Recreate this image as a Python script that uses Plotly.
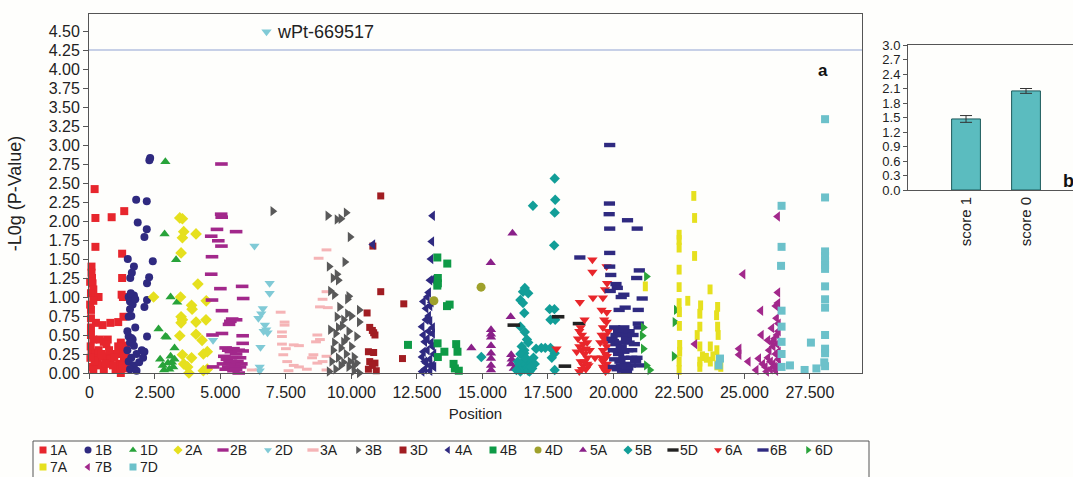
import plotly.graph_objects as go

# ---------------- data ----------------
chromosomes = ["1A", "1B", "1D", "2A", "2B", "2D", "3A", "3B", "3D", "4A", "4B",
               "4D", "5A", "5B", "5D", "6A", "6B", "6D", "7A", "7B", "7D"]

pts_1A = [(200, 2.42), (230, 2.04), (850, 2.05), (1330, 2.13), (230, 1.66), (1250, 1.57),
          (80, 1.40), (80, 1.32), (100, 1.25), (120, 1.18), (150, 1.10), (60, 1.05), (250, 1.0),
          (350, 1.0), (60, 0.83), (1250, 1.25), (1230, 1.03), (1280, 1.0), (150, 0.95), (250, 0.66),
          (500, 0.63), (800, 0.66), (1100, 0.67), (1300, 0.74), (150, 0.44), (400, 0.44), (550, 0.41),
          (700, 0.44), (650, 0.38), (1200, 0.40), (1350, 0.36), (80, 0.26), (300, 0.18), (250, 0.27),
          (500, 0.22), (700, 0.20), (800, 0.18), (1050, 0.25), (1150, 0.12), (1300, 0.30), (1400, 0.20),
          (1420, 0.06), (550, 0.04), (100, 0.08), (400, 0.10), (1000, 0.05), (900, 0.10), (1200, 0.0),
          (60, 0.50), (60, 0.60), (60, 0.72), (1380, 0.15), (50, 0.35), (150, 0.05), (200, 0.15),
          (350, 0.30), (450, 0.25), (600, 0.12), (750, 0.30), (950, 0.20), (1100, 0.35), (1250, 0.10),
          (1320, 0.22), (1400, 0.33), (30, 0.90), (30, 1.20), (40, 0.20)]
pts_1B = [(2290, 2.80), (2320, 2.83), (1785, 2.28), (2190, 2.26), (1845, 1.98), (2190, 1.89),
          (2100, 1.79), (1465, 1.50), (2420, 1.47), (1700, 1.40), (1620, 1.32), (1560, 1.25),
          (2280, 1.26), (2200, 1.18), (1500, 1.00), (1600, 0.98), (1700, 1.02), (1550, 0.94),
          (1650, 0.90), (1580, 1.05), (1750, 0.97), (2200, 0.96), (2100, 0.87), (1550, 0.84),
          (1500, 0.74), (1600, 0.75), (1500, 0.48), (1600, 0.46), (1650, 0.44), (1550, 0.40),
          (2200, 0.48), (1700, 0.36), (2000, 0.30), (2100, 0.28), (1800, 0.25), (1600, 0.20),
          (1500, 0.15), (1700, 0.10), (1900, 0.14), (1550, 0.05), (1800, 0.03), (2050, 0.20),
          (1450, 0.30), (1450, 0.55), (1750, 0.60)]
pts_1D = [(2900, 2.78), (2870, 1.83), (3310, 1.49), (3100, 1.0), (3350, 0.93), (2640, 0.58),
          (2900, 0.48), (2950, 0.47), (3250, 0.33), (2700, 0.18), (3000, 0.13), (3150, 0.14),
          (3250, 0.18), (2850, 0.04), (3050, 0.05), (3200, 0.08), (3100, 0.22), (2800, 0.10)]
pts_2A = [(3450, 2.04), (3550, 2.03), (3600, 1.86), (4070, 1.83), (3550, 1.78), (3500, 1.58),
          (4140, 1.17), (2450, 1.0), (3480, 1.0), (4460, 0.95), (3900, 0.89), (3920, 0.84),
          (3500, 0.74), (3550, 0.70), (3500, 0.66), (4070, 0.67), (4450, 0.70), (3450, 0.49),
          (4070, 0.51), (4300, 0.43), (3550, 0.24), (3900, 0.20), (4350, 0.25), (4500, 0.28),
          (3750, 0.08), (4350, 0.03), (3600, 0.12), (3800, 0.0), (4500, 0.05)]
pts_2B = [(5040, 2.75), (5030, 2.09), (5050, 2.05), (4870, 1.89), (5600, 1.86), (4650, 1.80),
          (4920, 1.74), (5040, 1.67), (4680, 1.53), (4650, 1.30), (5000, 1.11), (5830, 1.14),
          (5870, 0.98), (4680, 0.96), (5060, 0.82), (5450, 0.71), (5380, 0.68), (5600, 0.70),
          (5330, 0.64), (5060, 0.52), (4700, 0.50), (5850, 0.49), (5850, 0.39), (5850, 0.29),
          (4720, 0.08), (5200, 0.33), (5300, 0.30), (5400, 0.28), (5500, 0.32), (5600, 0.25),
          (5700, 0.30), (5750, 0.20), (5150, 0.22), (5250, 0.18), (5350, 0.15), (5450, 0.12),
          (5550, 0.10), (5650, 0.15), (5750, 0.08), (5200, 0.05), (5300, 0.08), (5500, 0.03),
          (5600, 0.05), (5800, 0.12), (5100, 0.12), (5400, 0.20), (5700, 0.0)]
pts_2D = [(6760, 4.49), (6300, 1.67), (6880, 1.18), (6880, 1.05), (6620, 0.85), (6560, 0.78),
          (6450, 0.72), (6700, 0.63), (6750, 0.57), (6800, 0.53), (6530, 0.34), (6500, 0.08),
          (6500, 0.03), (4720, 0.43), (6650, 0.55)]
pts_3A = [(7300, 0.80), (7450, 0.67), (7450, 0.63), (7350, 0.54), (7350, 0.48), (7350, 0.38),
          (7800, 0.37), (8000, 0.36), (7500, 0.32), (7400, 0.24), (8000, 0.08), (7600, 0.03),
          (6200, 0.04), (9050, 1.62), (8750, 1.51), (9050, 1.07), (8900, 0.97), (8800, 0.87),
          (9100, 0.86), (8700, 0.50), (8800, 0.44), (8650, 0.41), (8550, 0.24), (9050, 0.22),
          (8700, 0.13), (8900, 0.15), (9050, 0.04), (7800, 0.10), (8300, 0.05), (7550, 0.15),
          (8500, 0.20)]
pts_3B = [(7000, 2.13), (9100, 2.07), (9450, 2.02), (9600, 2.03), (9800, 2.11), (9950, 1.79),
          (9150, 1.40), (9750, 1.46), (9300, 1.25), (9450, 1.30), (9500, 1.22), (9200, 1.08),
          (9350, 1.03), (9900, 1.01), (9850, 0.97), (9550, 0.87), (10300, 0.83), (9450, 0.74),
          (9850, 0.78), (9700, 0.70), (10300, 0.67), (9200, 0.57), (9400, 0.52), (9700, 0.41),
          (10200, 0.48), (9600, 0.33), (10100, 0.21), (9250, 0.15), (9700, 0.14), (10200, 0.13),
          (9400, 0.05), (10100, 0.03), (9900, 0.08), (9800, 0.25), (9500, 0.20), (9300, 0.30),
          (10000, 0.35), (9150, 0.02), (10300, 0.0), (9600, 0.10), (9900, 0.55), (10000, 0.75),
          (9500, 0.60), (9650, 0.62), (9350, 0.40), (9800, 0.45), (10100, 0.10), (9950, 0.15)]
pts_3D = [(11120, 2.33), (10820, 1.67), (11120, 1.07), (12000, 0.91), (10600, 0.79), (10700, 0.60),
          (10850, 0.53), (10900, 0.50), (10800, 0.56), (10650, 0.28), (10850, 0.27), (11950, 0.19),
          (10700, 0.15), (10900, 0.13), (10650, 0.05), (10950, 0.03), (10800, 0.10)]
pts_4A = [(13100, 2.07), (13070, 1.73), (13040, 1.50), (13000, 1.22), (13100, 1.23), (12950, 1.06),
          (12750, 0.94), (13050, 0.93), (13000, 0.88), (12700, 0.61), (13000, 0.68), (12800, 0.41),
          (13100, 0.52), (12900, 0.45), (12700, 0.21), (13000, 0.18), (13100, 0.10), (12800, 0.05),
          (13000, 0.03), (12900, 0.30), (13100, 0.35), (12750, 0.28), (12850, 0.13), (13150, 0.25),
          (12950, 0.75), (12900, 1.0), (10820, 1.69), (13150, 0.08), (12750, 0.50), (12850, 0.70),
          (12950, 0.55), (13050, 0.40), (12800, 0.15), (13000, 0.10), (12700, 0.02), (13100, 0.60),
          (12850, 0.85)]
pts_4B = [(13280, 1.52), (13660, 1.44), (13300, 1.25), (13280, 1.15), (13300, 1.18), (13750, 0.90),
          (13650, 0.88), (12160, 0.37), (13290, 0.39), (13550, 0.28), (13300, 0.21), (14000, 0.38),
          (14050, 0.28), (13950, 0.06), (14100, 0.03), (13900, 0.12)]
pts_4D = [(14950, 1.13), (13150, 0.95)]
pts_5A = [(16150, 1.84), (15320, 1.45), (16080, 0.74), (15330, 0.57), (15330, 0.51), (15330, 0.47),
          (14580, 0.33), (15330, 0.36), (15330, 0.26), (15330, 0.19), (16100, 0.24), (16120, 0.18),
          (16200, 0.06), (15330, 0.04), (16100, 0.12), (15330, 0.10)]
pts_5B = [(17760, 2.56), (17780, 2.28), (16930, 2.20), (17760, 2.11), (17740, 1.68), (16620, 1.12),
          (16550, 1.07), (16750, 1.05), (16450, 0.96), (16550, 0.92), (16600, 0.79), (17570, 0.84),
          (17750, 0.84), (17600, 0.70), (17780, 0.70), (16450, 0.61), (16620, 0.54), (16700, 0.44),
          (16750, 0.40), (17050, 0.32), (17250, 0.33), (17400, 0.33), (17600, 0.33), (16600, 0.30),
          (16600, 0.26), (14960, 0.21), (17760, 0.26), (17650, 0.20), (16400, 0.12), (16500, 0.08),
          (16600, 0.05), (16700, 0.10), (16800, 0.15), (16900, 0.06), (16450, 0.02), (16800, 0.02),
          (17760, 0.04), (17000, 0.12), (16300, 0.04), (16450, 0.25), (16550, 0.15), (16650, 0.20),
          (16750, 0.03), (16850, 0.08), (16950, 0.20), (16350, 0.15), (16500, 0.35)]
pts_5D = [(16200, 0.63), (17890, 0.74), (18690, 0.65), (18150, 0.09)]
pts_6A = [(19200, 1.49), (19200, 1.33), (19740, 1.40), (19760, 1.18), (19680, 1.10), (18720, 0.93),
          (19220, 0.99), (19600, 0.99), (19550, 0.83), (19740, 0.67), (18900, 0.70), (17830, 0.32),
          (18700, 0.55), (18800, 0.50), (18900, 0.45), (19000, 0.40), (18700, 0.35), (18800, 0.30),
          (18900, 0.25), (19000, 0.20), (18750, 0.15), (18850, 0.10), (18950, 0.05), (18700, 0.02),
          (19050, 0.10), (19600, 0.60), (19700, 0.50), (19650, 0.45), (19750, 0.35), (19600, 0.30),
          (19700, 0.25), (19650, 0.18), (19750, 0.12), (19600, 0.08), (19700, 0.02), (19500, 0.40),
          (19800, 0.55), (19550, 0.20), (18600, 0.28), (19100, 0.30), (19300, 0.20), (19800, 0.04),
          (18650, 0.45), (18750, 0.60), (18850, 0.38), (18950, 0.32), (19000, 0.12), (18800, 0.05),
          (18900, 0.15), (19550, 0.50), (19650, 0.70), (19750, 0.80), (19600, 0.15), (19700, 0.40),
          (19750, 0.22), (19650, 0.05)]
pts_6B = [(19860, 3.00), (19850, 2.23), (19840, 2.09), (20540, 2.01), (19860, 1.90), (20910, 1.90),
          (19860, 1.58), (18720, 1.52), (19860, 1.40), (20990, 1.35), (19900, 1.29), (20890, 1.25),
          (20100, 1.17), (20150, 1.12), (19880, 1.08), (20400, 1.03), (20300, 1.00), (21100, 0.98),
          (20220, 0.83), (20450, 0.86), (20950, 0.83), (20950, 0.65), (20980, 0.60), (20200, 0.55),
          (20350, 0.50), (20500, 0.45), (20000, 0.42), (20100, 0.38), (20300, 0.35), (20600, 0.40),
          (20800, 0.38), (20000, 0.30), (20200, 0.25), (20400, 0.28), (20700, 0.30), (20900, 0.20),
          (20050, 0.18), (20250, 0.15), (20450, 0.12), (20650, 0.10), (20000, 0.08), (20150, 0.05),
          (20350, 0.03), (20550, 0.06), (20850, 0.15), (21000, 0.10), (19950, 0.45), (20600, 0.55),
          (20100, 0.50), (20250, 0.40), (20400, 0.20), (20550, 0.30), (20700, 0.20), (20150, 0.30),
          (20300, 0.10), (20500, 0.02), (20050, 0.60), (20750, 0.50), (20400, 0.60)]
pts_6D = [(21260, 1.27), (22400, 0.83), (21140, 0.60), (21100, 0.49), (22350, 0.67), (21140, 0.32),
          (22320, 0.22), (21260, 0.10), (21390, 0.04)]
pts_7A = [(23070, 2.33), (23100, 2.04), (22510, 1.82), (22510, 1.75), (22510, 1.65), (23100, 1.54),
          (22510, 1.36), (21220, 1.14), (22510, 1.13), (23690, 1.10), (22840, 0.95), (22510, 0.92),
          (23330, 0.89), (23980, 0.87), (22520, 0.80), (23300, 0.78), (23940, 0.76), (23980, 0.61),
          (23300, 0.61), (22520, 0.62), (23200, 0.50), (24000, 0.50), (22530, 0.37), (23300, 0.35),
          (23700, 0.35), (22530, 0.28), (23400, 0.22), (23550, 0.20), (23950, 0.30), (23700, 0.15),
          (23950, 0.10), (24100, 0.08), (22510, 0.04), (22510, 0.15), (23300, 0.08), (23300, 0.15),
          (23800, 0.22)]
pts_7B = [(26270, 2.06), (24950, 1.30), (26280, 1.06), (26280, 0.92), (26200, 0.88), (25630, 0.82),
          (26230, 0.72), (26050, 0.59), (25650, 0.50), (25900, 0.43), (26300, 0.55), (24800, 0.32),
          (24800, 0.24), (26250, 0.38), (25150, 0.15), (25550, 0.19), (25900, 0.20), (25450, 0.04),
          (25800, 0.08), (26100, 0.12), (26200, 0.25), (26300, 0.18), (26000, 0.05), (26200, 0.03),
          (23110, 0.38), (26300, 0.65), (26150, 0.45), (25950, 0.30), (26300, 0.10), (26000, 0.15),
          (26100, 0.35), (26250, 0.50), (26150, 0.08), (25700, 0.12), (26050, 0.40), (26300, 0.28),
          (25850, 0.02)]
pts_7D = [(28080, 3.34), (28080, 2.31), (26420, 2.20), (26420, 1.66), (28080, 1.60), (28080, 1.54),
          (28080, 1.48), (28080, 1.42), (28080, 1.37), (26400, 1.41), (28080, 1.14), (28080, 0.97),
          (28080, 0.86), (26420, 0.82), (26420, 0.61), (28080, 0.50), (27540, 0.40), (26420, 0.41),
          (28080, 0.32), (28080, 0.26), (26740, 0.10), (27300, 0.04), (27750, 0.06), (28080, 0.09),
          (28050, 0.14), (26420, 0.25), (26420, 0.08), (24070, 0.19), (24020, 0.10)]

top_marker_label = "wPt-669517"
top_marker_pos = 6760
top_marker_val = 4.49
threshold = 4.25

x_tick_vals = [0, 2500, 5000, 7500, 10000, 12500, 15000, 17500, 20000, 22500, 25000, 27500]
y_tick_vals = [0.25 * i for i in range(19)]

bar_labels = ["score 1", "score 0"]
bar_values = [1.47, 2.05]
bar_errors = [0.07, 0.05]

# ---------------- styles ----------------
NAVY = "#2f2a80"
styles = {
    "1A": ("square", "#e7262d", 8),
    "1B": ("circle", NAVY, 8),
    "1D": ("triangle-up", "#28a33a", 9),
    "2A": ("diamond", "#e6e01e", 9),
    "2B": ("line-ew", "#a2288b", 9),
    "2D": ("triangle-down", "#80cad6", 9),
    "3A": ("line-ew", "#f5b4b6", 7),
    "3B": ("triangle-right", "#595959", 9),
    "3D": ("square", "#a11d22", 7),
    "4A": ("triangle-left", NAVY, 9),
    "4B": ("square", "#0e9a46", 8),
    "4D": ("circle", "#9fa12b", 9),
    "5A": ("triangle-up", "#8a2089", 9),
    "5B": ("diamond", "#129e98", 8),
    "5D": ("line-ew", "#222222", 9),
    "6A": ("triangle-down", "#e8262b", 9),
    "6B": ("line-ew", NAVY, 8),
    "6D": ("triangle-right", "#2aa33a", 9),
    "7A": ("line-ns", "#e6e01e", 7),
    "7B": ("triangle-left", "#a2288b", 9),
    "7D": ("square", "#6cc1ca", 8),
}
series = {
    "1A": pts_1A, "1B": pts_1B, "1D": pts_1D, "2A": pts_2A, "2B": pts_2B, "2D": pts_2D,
    "3A": pts_3A, "3B": pts_3B, "3D": pts_3D, "4A": pts_4A, "4B": pts_4B, "4D": pts_4D,
    "5A": pts_5A, "5B": pts_5B, "5D": pts_5D, "6A": pts_6A, "6B": pts_6B, "6D": pts_6D,
    "7A": pts_7A, "7B": pts_7B, "7D": pts_7D,
}

W, H = 1073, 477
BG = "#fefefc"
FONT = "Liberation Sans, Arial, Helvetica, sans-serif"
AX = "#555555"


def marker_for(name, size=None):
    sym, col, sz = styles[name]
    m = dict(symbol=sym, color=col, size=size or sz)
    if sym == "line-ew":
        w = 4.4 if name == "6B" else (3.0 if name == "3A" else 3.6)
        m["line"] = dict(color=col, width=w)
    elif sym == "line-ns":
        m["line"] = dict(color=col, width=5)
    else:
        m["line"] = dict(width=0)
    return m


fig = go.Figure()
for name in chromosomes:
    pts = series[name]
    fig.add_trace(go.Scatter(
        x=[p[0] for p in pts], y=[p[1] for p in pts], mode="markers", name=name,
        marker=marker_for(name), cliponaxis=False, xaxis="x", yaxis="y", showlegend=False,
    ))

fig.add_trace(go.Bar(
    x=[0, 1], y=bar_values, width=0.48, xaxis="x2", yaxis="y2", showlegend=False,
    marker=dict(color="#5bbcbf", line=dict(color="#1c5a5b", width=1)),
    error_y=dict(type="data", array=bar_errors, color="#333333", thickness=1, width=6),
))

# ---- key (legend) drawn in a pixel-unit overlay axis below the plot ----
KEY_X0, KEY_DX = 43, 45
KEY_ROWS_Y = [450, 467]
KEY_PER_ROW = 18
for i, name in enumerate(chromosomes):
    col_i, row_i = i % KEY_PER_ROW, i // KEY_PER_ROW
    kx = KEY_X0 + KEY_DX * col_i
    ky = KEY_ROWS_Y[row_i]
    sym = styles[name][0]
    ksize = 8 if sym.startswith("line") else 7
    km = marker_for(name, ksize)
    if sym == "line-ew":
        km["line"]["width"] = 3.4
    if sym == "line-ns":
        km = dict(symbol="square", color=styles[name][1], size=7, line=dict(width=0))
    fig.add_trace(go.Scatter(x=[kx], y=[ky], mode="markers", marker=km, name=name,
                             xaxis="x3", yaxis="y3", showlegend=False, cliponaxis=False,
                             hoverinfo="skip"))
    fig.add_annotation(x=kx, y=ky, xref="x3", yref="y3", text=name, showarrow=False,
                       xanchor="left", yanchor="middle", xshift=6, borderpad=0,
                       font=dict(size=14, color="#222"))

fig.add_shape(type="line", xref="x domain", x0=0, x1=1, yref="y", y0=threshold, y1=threshold,
              line=dict(color="#8fa2d2", width=1.2))
fig.add_shape(type="rect", xref="paper", yref="paper", x0=33 / W, x1=869 / W,
              y0=-0.1, y1=1 - 441 / H, line=dict(color=AX, width=1), layer="below")

fig.add_annotation(x=top_marker_pos, y=top_marker_val, xref="x", yref="y", text=top_marker_label,
                   showarrow=False, xanchor="left", xshift=8, font=dict(size=18, color="#222"))
fig.add_annotation(x=823 / W, y=1 - 70 / H, xref="paper", yref="paper", text="<b>a</b>",
                   showarrow=False, xanchor="center", yanchor="middle",
                   font=dict(size=17, color="#111"))
fig.add_annotation(x=1061 / W, y=1 - 181 / H, xref="paper", yref="paper", text="<b>b</b>",
                   showarrow=False, xanchor="left", yanchor="middle",
                   font=dict(size=18, color="#111"))

fig.update_layout(
    template="none",
    width=W, height=H, margin=dict(l=0, r=0, t=0, b=0, pad=0, autoexpand=False),
    paper_bgcolor=BG, plot_bgcolor=BG,
    font=dict(family=FONT, color="#222", size=16),
    showlegend=False,
    xaxis=dict(domain=[89 / W, 862 / W], range=[-15, 29490], anchor="y", automargin=False,
               tickvals=x_tick_vals, ticktext=[f"{v:,}".replace(",", ".") for v in x_tick_vals],
               showline=True, mirror=True, linecolor=AX, linewidth=1, ticks="outside", ticklen=5,
               tickcolor=AX, showgrid=False, zeroline=False, tickfont=dict(size=16),
               title=dict(text="Position", font=dict(size=15), standoff=8)),
    yaxis=dict(domain=[1 - 373 / H, 1 - 14 / H], range=[0, 4.724], anchor="x", automargin=False,
               tickvals=y_tick_vals, tickformat=".2f",
               showline=True, mirror=True, linecolor=AX, linewidth=1, ticks="outside", ticklen=5,
               tickcolor=AX, showgrid=False, zeroline=False, tickfont=dict(size=16),
               title=dict(text="-L0g (P-Value)", font=dict(size=18), standoff=22)),
    xaxis2=dict(domain=[908 / W, 1.0], range=[-0.967, 1.783], anchor="y2", automargin=False,
                tickvals=[0, 1], ticktext=bar_labels, tickangle=-90,
                showline=True, mirror=True, linecolor=AX, linewidth=1, ticks="",
                showgrid=False, zeroline=False, tickfont=dict(size=15)),
    yaxis2=dict(domain=[1 - 190 / H, 1 - 45 / H], range=[0, 3], anchor="x2", automargin=False,
                dtick=0.3, tickformat=".1f",
                showline=True, linecolor=AX, linewidth=1, ticks="outside", ticklen=4,
                tickcolor=AX, showgrid=False, zeroline=False, tickfont=dict(size=13)),
    xaxis3=dict(domain=[0, 1], range=[0, W], anchor="y3", visible=False, fixedrange=True,
                automargin=False),
    yaxis3=dict(domain=[0, 1 - 440 / H], range=[H, 440], anchor="x3", visible=False,
                fixedrange=True, automargin=False),
)

fig.write_html("out.html")
